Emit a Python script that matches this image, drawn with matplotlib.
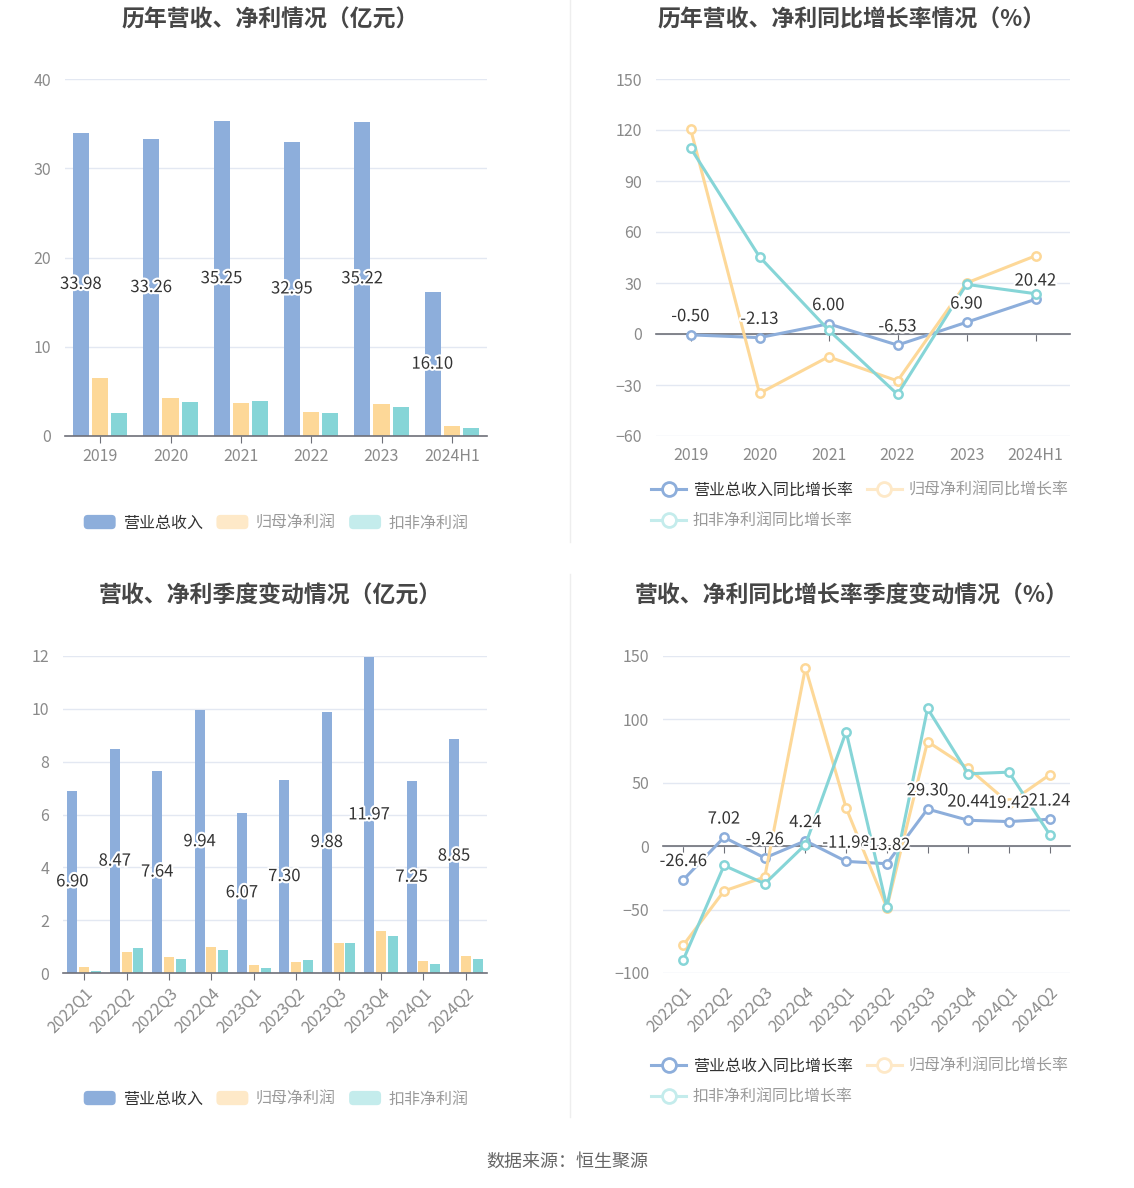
import matplotlib
matplotlib.use('Agg')
import matplotlib.pyplot as plt
import numpy as np
from matplotlib.patches import Patch, FancyBboxPatch
from matplotlib.lines import Line2D
from matplotlib.legend_handler import HandlerPatch
import matplotlib.patheffects as pe

plt.rcParams['font.family'] = ['Noto Sans CJK SC', 'DejaVu Sans']

# ---------------- data ----------------
years = ['2019', '2020', '2021', '2022', '2023', '2024H1']
rev_annual = [33.98, 33.26, 35.25, 32.95, 35.22, 16.10]
np_annual = [6.54, 4.28, 3.72, 2.70, 3.53, 1.13]
ded_annual = [2.59, 3.80, 3.91, 2.55, 3.27, 0.90]

rev_growth_annual = [-0.50, -2.13, 6.00, -6.53, 6.90, 20.42]
np_growth_annual = [120.8, -34.9, -13.4, -27.6, 30.0, 46.0]
ded_growth_annual = [109.5, 45.4, 2.4, -35.5, 29.2, 23.7]

quarters = ['2022Q1', '2022Q2', '2022Q3', '2022Q4', '2023Q1', '2023Q2',
            '2023Q3', '2023Q4', '2024Q1', '2024Q2']
rev_q = [6.90, 8.47, 7.64, 9.94, 6.07, 7.30, 9.88, 11.97, 7.25, 8.85]
np_q = [0.23, 0.79, 0.61, 0.98, 0.32, 0.40, 1.12, 1.59, 0.44, 0.63]
ded_q = [0.09, 0.95, 0.53, 0.88, 0.20, 0.48, 1.12, 1.39, 0.33, 0.54]

rev_growth_q = [-26.46, 7.02, -9.26, 4.24, -11.98, -13.82, 29.30, 20.44, 19.42, 21.24]
np_growth_q = [-78.0, -35.3, -24.3, 140.8, 30.1, -48.4, 82.5, 61.5, 34.0, 56.3]
ded_growth_q = [-89.5, -15.2, -29.6, 1.3, 90.3, -47.9, 108.6, 57.1, 58.4, 9.2]

bar_legend = ['营业总收入', '归母净利润', '扣非净利润']
line_legend = ['营业总收入同比增长率', '归母净利润同比增长率', '扣非净利润同比增长率']

titles = ['历年营收、净利情况（亿元）', '历年营收、净利同比增长率情况（%）',
          '营收、净利季度变动情况（亿元）', '营收、净利同比增长率季度变动情况（%）']
source = '数据来源：恒生聚源'

# ---------------- style ----------------
BLUE = '#8DAEDB'
ORANGE = '#FDD898'
TEAL = '#86D5D7'
FADE = ['#8DAEDB', '#FEE9C8', '#C4ECEC']
GRID = '#E3E8F2'
AXIS = '#6E7079'
TICK = '#8A8A8A'
TXT = '#333333'
W, H = 1134, 1188

fig = plt.figure(figsize=(W / 100, H / 100), dpi=100)
fig.patch.set_facecolor('white')


def fx(px):
    return px / W


def fy(py):
    return 1 - py / H


def add_ax(l, t, r, b):
    return fig.add_axes([fx(l), fy(b), fx(r) - fx(l), fy(t) - fy(b)])


stroke = [pe.withStroke(linewidth=3, foreground='white')]


def style_common(ax, ylim, yticks):
    ax.set_ylim(*ylim)
    ax.set_yticks(yticks)
    ax.yaxis.grid(True, color=GRID, lw=1)
    ax.set_axisbelow(True)
    for s in ['left', 'right', 'top']:
        ax.spines[s].set_visible(False)
    ax.spines['bottom'].set_color(AXIS)
    ax.spines['bottom'].set_linewidth(1.2)
    ax.tick_params(axis='y', length=0, labelcolor=TICK, labelsize=11.5, pad=10)
    ax.tick_params(axis='x', length=5, color=AXIS, labelcolor=TICK, labelsize=11.5)


def bar_chart(ax, cats, rev, npv, ded, ylim, yticks, bw, sp, rotate=False):
    x = np.arange(len(cats))
    ax.bar(x - sp, rev, bw, color=BLUE, zorder=2)
    ax.bar(x, npv, bw, color=ORANGE, zorder=2)
    ax.bar(x + sp, ded, bw, color=TEAL, zorder=2)
    ax.set_xlim(-0.5, len(cats) - 0.5)
    style_common(ax, ylim, yticks)
    ax.set_xticks(x)
    if rotate:
        ax.set_xticklabels(cats, rotation=45, ha='right', rotation_mode='anchor')
    else:
        ax.set_xticklabels(cats)
    for xi, v in zip(x, rev):
        ax.text(xi - sp, v / 2, f'{v:.2f}', ha='center', va='center', fontsize=12,
                color=TXT, path_effects=stroke, zorder=5)


def line_chart(ax, cats, rev, npv, ded, ylim, yticks, rotate=False):
    x = np.arange(len(cats))
    for vals, c, z in [(rev, BLUE, 3), (npv, ORANGE, 3.1), (ded, TEAL, 3.2)]:
        ax.plot(x, vals, color=c, lw=2.2, marker='o', ms=6, mfc='white', mec=c,
                mew=1.8, zorder=z)
    ax.set_xlim(-0.5, len(cats) - 0.5)
    style_common(ax, ylim, yticks)
    ax.spines['bottom'].set_position(('data', 0))
    ax.set_xticks(x)
    ax.tick_params(axis='x', labelbottom=False)
    sec = ax.secondary_xaxis('bottom')
    sec.spines['bottom'].set_visible(False)
    sec.set_xticks(x)
    if rotate:
        sec.set_xticklabels(cats, rotation=45, ha='right', rotation_mode='anchor')
    else:
        sec.set_xticklabels(cats)
    sec.tick_params(axis='x', length=0, labelcolor=TICK, labelsize=11.5, pad=8)
    for xi, v in zip(x, rev):
        ax.annotate(f'{v:.2f}', (xi, v), xytext=(0, 7), textcoords='offset points',
                    ha='center', va='bottom', fontsize=12, color=TXT,
                    path_effects=stroke, zorder=6)


class RoundHandler(HandlerPatch):
    def create_artists(self, legend, orig_handle, xdescent, ydescent, width, height,
                       fontsize, trans):
        p = FancyBboxPatch((-xdescent, -ydescent), width, height,
                           boxstyle='round,pad=0,rounding_size=3',
                           facecolor=orig_handle.get_facecolor(), edgecolor='none',
                           transform=trans)
        return [p]


def bar_legend_at(cx, cy):
    handles = [Patch(facecolor=c) for c in FADE]
    leg = fig.legend(handles, bar_legend, loc='center', bbox_to_anchor=(fx(cx), fy(cy)),
                     ncol=3, frameon=False, fontsize=11.5, handlelength=2.0,
                     handleheight=1.0, handletextpad=0.45, columnspacing=0.85,
                     handler_map={Patch: RoundHandler()})
    for i, t in enumerate(leg.get_texts()):
        t.set_color(TXT if i == 0 else '#9A9A9A')


def line_legend_at(lx, ty):
    handles = [Line2D([], [], color=c, lw=2.2, marker='o', ms=10, mfc='white',
                      mec=c, mew=2) for c in FADE]
    order = [0, 2, 1]  # column-wise fill -> row 1: items 0,1 ; row 2: item 2
    leg = fig.legend([handles[i] for i in order], [line_legend[i] for i in order],
                     loc='upper left',
                     bbox_to_anchor=(fx(lx), fy(ty)), ncol=2, frameon=False,
                     fontsize=11.5, handlelength=2.2, handletextpad=0.4,
                     columnspacing=0.9, labelspacing=0.85, borderaxespad=0,
                     borderpad=0)
    for t, i in zip(leg.get_texts(), order):
        t.set_color(TXT if i == 0 else '#9A9A9A')


# ---------------- panels ----------------
ax1 = add_ax(65, 79, 487, 436)
bar_chart(ax1, years, rev_annual, np_annual, ded_annual, (0, 40), [0, 10, 20, 30, 40],
          0.228, 0.274)

ax2 = add_ax(656, 79, 1070, 436)
line_chart(ax2, years, rev_growth_annual, np_growth_annual, ded_growth_annual,
           (-60, 150), [-60, -30, 0, 30, 60, 90, 120, 150])

ax3 = add_ax(63, 656, 487, 973)
bar_chart(ax3, quarters, rev_q, np_q, ded_q, (0, 12), [0, 2, 4, 6, 8, 10, 12],
          0.237, 0.277, rotate=True)

ax4 = add_ax(663, 656, 1070, 973)
line_chart(ax4, quarters, rev_growth_q, np_growth_q, ded_growth_q,
           (-100, 150), [-100, -50, 0, 50, 100, 150], rotate=True)

# titles
title_kw = dict(ha='center', va='center', fontsize=16.5, fontweight='bold', color='#464646')
fig.text(fx(270), fy(20), titles[0], **title_kw)
fig.text(fx(852), fy(20), titles[1], **title_kw)
fig.text(fx(270), fy(596), titles[2], **title_kw)
fig.text(fx(852), fy(596), titles[3], **title_kw)

# legends
bar_legend_at(276, 523)
line_legend_at(651, 482)
bar_legend_at(276, 1099)
line_legend_at(651, 1058)

# separators
fig.add_artist(Line2D([fx(570), fx(570)], [fy(0), fy(542)], color='#EEEEEE', lw=1))
fig.add_artist(Line2D([fx(570), fx(570)], [fy(574), fy(1117)], color='#EEEEEE', lw=1))

fig.text(0.5, fy(1162), source, ha='center', va='center', fontsize=13, color='#666666')

fig.savefig('out.png', dpi=100, facecolor='white')
